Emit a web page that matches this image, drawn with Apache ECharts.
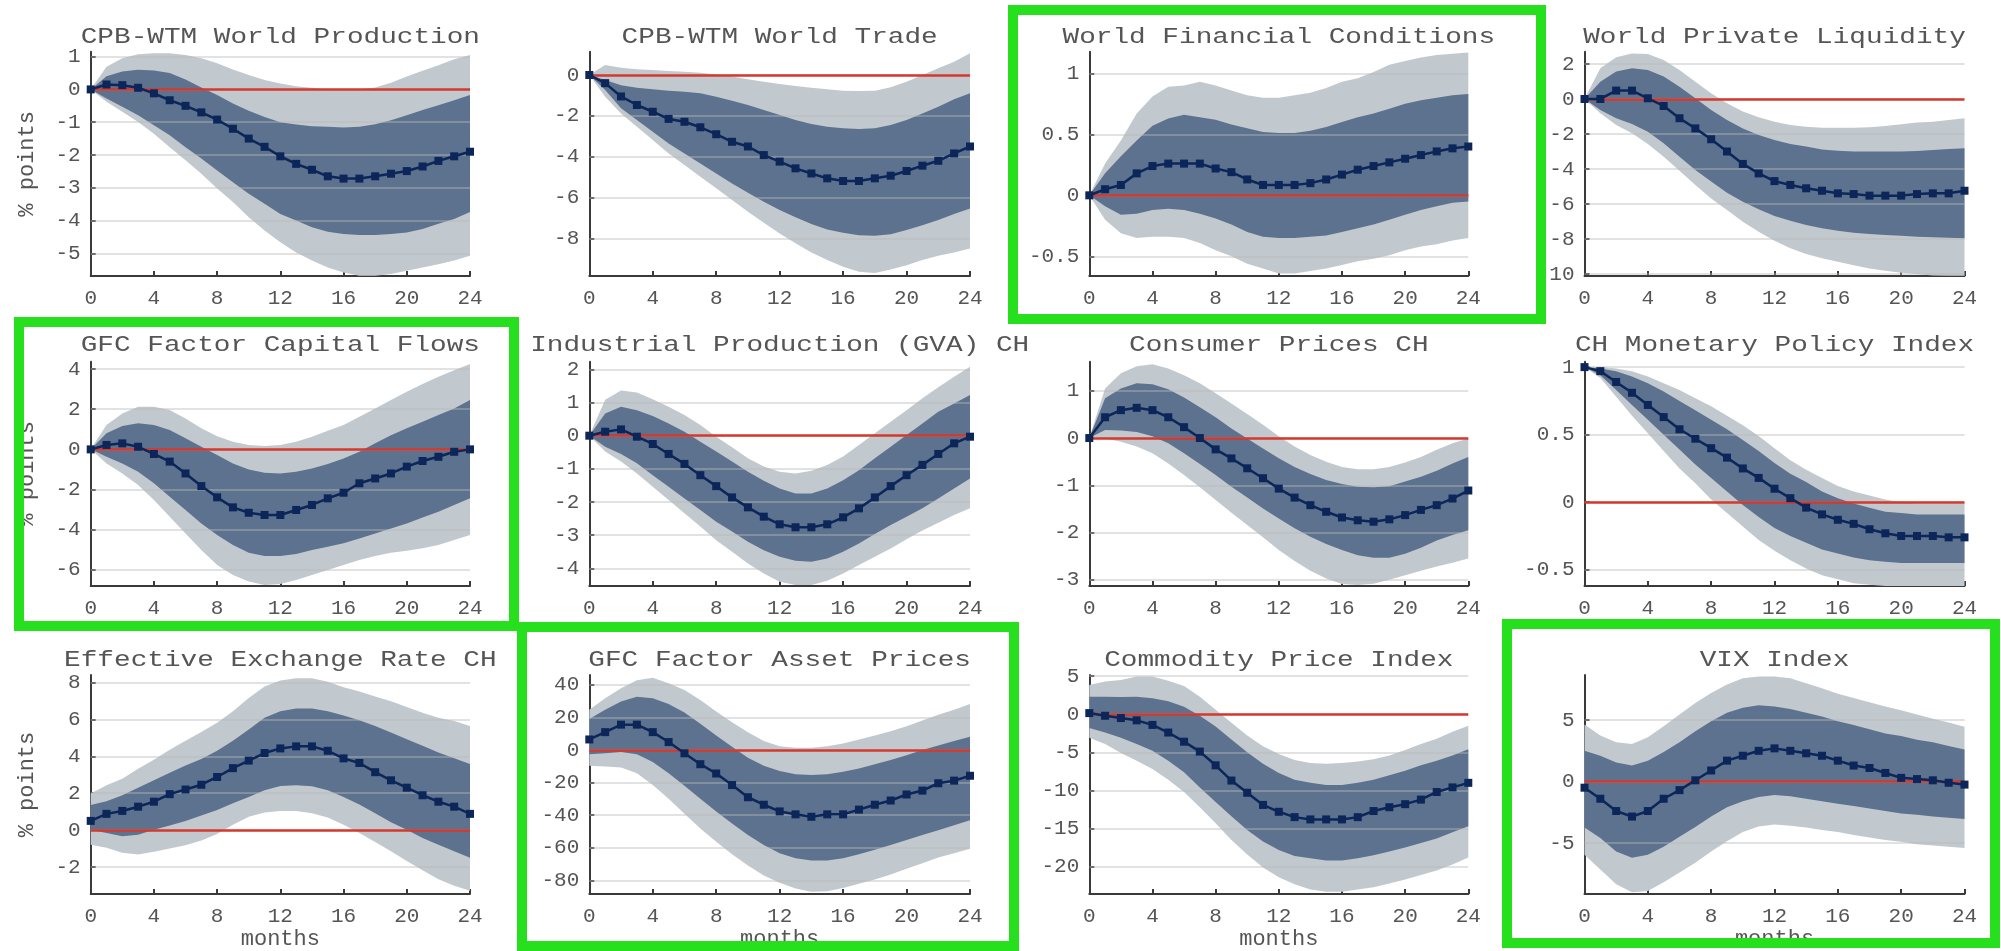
<!DOCTYPE html>
<html><head><meta charset="utf-8">
<script src="https://cdn.jsdelivr.net/npm/echarts@6/dist/echarts.min.js"></script>
<style>html,body{margin:0;padding:0;background:#fff}#c{width:2001px;height:951px}</style>
</head><body><div id="c"></div>
<script>
// ---------- DATA ----------
const months = [0,1,2,3,4,5,6,7,8,9,10,11,12,13,14,15,16,17,18,19,20,21,22,23,24];
const xTicks = [0,4,8,12,16,20,24];
const titles = ["CPB-WTM World Production","CPB-WTM World Trade","World Financial Conditions","World Private Liquidity",
  "GFC Factor Capital Flows","Industrial Production (GVA) CH","Consumer Prices CH","CH Monetary Policy Index",
  "Effective Exchange Rate CH","GFC Factor Asset Prices","Commodity Price Index","VIX Index"];
const yLabelText = "% points";
const xLabelText = "months";

// tick labels per panel
const ticks1 = [-5,-4,-3,-2,-1,0,1];
const ticks2 = [-8,-6,-4,-2,0];
const ticks3 = [-0.5,0,0.5,1];
const ticks4 = [-10,-8,-6,-4,-2,0,2];
const ticks5 = [-6,-4,-2,0,2,4];
const ticks6 = [-4,-3,-2,-1,0,1,2];
const ticks7 = [-3,-2,-1,0,1];
const ticks8 = [-0.5,0,0.5,1];
const ticks9 = [-2,0,2,4,6,8];
const ticks10 = [-80,-60,-40,-20,0,20,40];
const ticks11 = [-20,-15,-10,-5,0,5];
const ticks12 = [-5,0,5];

// y-axis extents per panel [min, max]
const yExtents = [[-5.69,1.15],[-9.84,1.14],[-0.661,1.177],[-10.11,2.7],
  [-6.81,4.37],[-4.53,2.23],[-3.13,1.615],[-0.62,1.04],
  [-3.47,8.41],[-88.5,46.1],[-23.6,5.15],[-9.16,8.67]];

// Panel 1: CPB-WTM World Production
const p1Med  = [0,0.15,0.13,0.05,-0.12,-0.33,-0.5,-0.7,-0.92,-1.2,-1.5,-1.75,-2.04,-2.27,-2.45,-2.65,-2.72,-2.72,-2.65,-2.57,-2.49,-2.35,-2.18,-2.04,-1.9];
const p1Hi68 = [0,0.4,0.55,0.6,0.58,0.5,0.3,0.06,-0.17,-0.43,-0.65,-0.84,-1.0,-1.07,-1.12,-1.14,-1.16,-1.14,-1.06,-0.94,-0.79,-0.63,-0.48,-0.33,-0.17];
const p1Lo68 = [0,-0.28,-0.53,-0.79,-1.09,-1.4,-1.76,-2.11,-2.47,-2.83,-3.18,-3.49,-3.8,-4.0,-4.2,-4.34,-4.41,-4.44,-4.44,-4.41,-4.36,-4.26,-4.1,-3.95,-3.74];
const p1Hi90 = [0,0.69,0.95,1.07,1.1,1.1,1.05,0.95,0.8,0.61,0.44,0.29,0.18,0.1,0.05,0,-0.02,0,0.06,0.2,0.39,0.57,0.74,0.92,1.05];
const p1Lo90 = [0,-0.38,-0.68,-0.99,-1.35,-1.76,-2.16,-2.57,-3.02,-3.43,-3.9,-4.3,-4.66,-4.97,-5.22,-5.43,-5.58,-5.68,-5.68,-5.63,-5.53,-5.43,-5.33,-5.22,-5.07];

// Panel 2: CPB-WTM World Trade
const p2Med  = [0,-0.4,-1.05,-1.47,-1.8,-2.15,-2.29,-2.56,-2.9,-3.27,-3.5,-3.92,-4.24,-4.57,-4.82,-5.06,-5.19,-5.19,-5.06,-4.93,-4.7,-4.44,-4.2,-3.84,-3.5];
const p2Hi68 = [0,-0.24,-0.5,-0.62,-0.7,-0.77,-0.82,-0.9,-1.06,-1.26,-1.47,-1.71,-1.96,-2.2,-2.4,-2.53,-2.61,-2.64,-2.61,-2.45,-2.2,-1.88,-1.55,-1.19,-0.9];
const p2Lo68 = [0,-0.73,-1.63,-2.2,-2.78,-3.35,-3.84,-4.33,-4.82,-5.31,-5.76,-6.2,-6.61,-6.97,-7.3,-7.56,-7.72,-7.84,-7.87,-7.8,-7.59,-7.35,-7.1,-6.8,-6.53];
const p2Hi90 = [0,0.49,0.36,0.28,0.24,0.2,0.16,0.11,0.03,-0.08,-0.21,-0.33,-0.44,-0.54,-0.62,-0.7,-0.77,-0.78,-0.77,-0.6,-0.33,0,0.33,0.65,1.06];
const p2Lo90 = [0,-1.06,-1.88,-2.53,-3.18,-3.84,-4.41,-4.98,-5.55,-6.12,-6.69,-7.23,-7.76,-8.24,-8.69,-9.06,-9.39,-9.63,-9.69,-9.52,-9.31,-9.06,-8.85,-8.69,-8.49];

// Panel 3: World Financial Conditions
const p3Med  = [0,0.05,0.085,0.18,0.24,0.26,0.26,0.26,0.22,0.19,0.13,0.085,0.085,0.085,0.1,0.13,0.17,0.21,0.24,0.27,0.3,0.33,0.36,0.385,0.4];
const p3Hi68 = [0,0.18,0.32,0.45,0.57,0.63,0.66,0.64,0.62,0.58,0.55,0.52,0.51,0.51,0.53,0.56,0.6,0.64,0.67,0.71,0.75,0.78,0.8,0.82,0.83];
const p3Lo68 = [0,-0.09,-0.16,-0.15,-0.12,-0.11,-0.12,-0.15,-0.19,-0.24,-0.3,-0.34,-0.35,-0.35,-0.34,-0.33,-0.3,-0.27,-0.24,-0.2,-0.16,-0.12,-0.09,-0.06,-0.05];
const p3Hi90 = [0,0.26,0.45,0.67,0.81,0.89,0.9,0.93,0.9,0.86,0.82,0.8,0.8,0.82,0.84,0.88,0.93,0.96,1.01,1.07,1.1,1.13,1.15,1.16,1.17];
const p3Lo90 = [0,-0.2,-0.31,-0.35,-0.34,-0.34,-0.35,-0.39,-0.45,-0.5,-0.56,-0.6,-0.64,-0.64,-0.62,-0.6,-0.57,-0.54,-0.52,-0.49,-0.45,-0.42,-0.4,-0.37,-0.35];

// Panel 4: World Private Liquidity
const p4Med  = [0,0,0.48,0.48,0.04,-0.4,-1.1,-1.68,-2.3,-3.0,-3.71,-4.25,-4.69,-4.91,-5.1,-5.24,-5.39,-5.43,-5.52,-5.52,-5.52,-5.43,-5.39,-5.39,-5.24];
const p4Hi68 = [0,0.99,1.57,1.75,1.66,1.28,0.7,0.04,-0.63,-1.2,-1.68,-2.06,-2.34,-2.57,-2.72,-2.88,-2.95,-3.0,-3.0,-3.0,-3.0,-2.97,-2.91,-2.86,-2.82];
const p4Lo68 = [0,-0.63,-1.1,-1.43,-1.87,-2.53,-3.3,-4.06,-4.72,-5.35,-5.87,-6.3,-6.69,-6.95,-7.2,-7.39,-7.52,-7.64,-7.71,-7.77,-7.81,-7.87,-7.9,-7.92,-7.96];
const p4Hi90 = [0,1.75,2.38,2.6,2.57,2.23,1.66,0.99,0.32,-0.25,-0.72,-1.05,-1.3,-1.49,-1.58,-1.64,-1.64,-1.64,-1.62,-1.54,-1.45,-1.35,-1.3,-1.2,-1.1];
const p4Lo90 = [0,-0.82,-1.49,-1.96,-2.57,-3.3,-4.1,-4.91,-5.68,-6.34,-7.01,-7.58,-8.1,-8.53,-8.86,-9.1,-9.3,-9.49,-9.68,-9.81,-9.92,-10.0,-10.08,-10.1,-10.1];

// Panel 5: GFC Factor Capital Flows
const p5Med  = [0,0.22,0.3,0.13,-0.23,-0.61,-1.2,-1.83,-2.39,-2.89,-3.16,-3.27,-3.27,-3.02,-2.77,-2.44,-2.16,-1.69,-1.45,-1.2,-0.86,-0.58,-0.37,-0.12,0];
const p5Hi68 = [0,0.8,1.16,1.3,1.21,0.96,0.55,0.13,-0.28,-0.7,-1.0,-1.16,-1.2,-1.11,-0.95,-0.73,-0.45,-0.12,0.3,0.71,1.05,1.38,1.71,2.04,2.46];
const p5Lo68 = [0,-0.37,-0.7,-1.11,-1.69,-2.36,-3.02,-3.69,-4.27,-4.77,-5.15,-5.32,-5.32,-5.22,-5.02,-4.85,-4.68,-4.44,-4.19,-3.94,-3.69,-3.39,-3.11,-2.77,-2.44];
const p5Hi90 = [0,1.21,1.79,2.13,2.13,1.96,1.54,1.05,0.66,0.38,0.22,0.17,0.22,0.38,0.63,0.93,1.21,1.63,2.04,2.46,2.87,3.26,3.62,3.95,4.25];
const p5Lo90 = [0,-0.7,-1.2,-1.78,-2.52,-3.36,-4.19,-5.02,-5.76,-6.26,-6.59,-6.76,-6.71,-6.51,-6.26,-6.01,-5.76,-5.51,-5.32,-5.15,-5.05,-4.93,-4.77,-4.52,-4.27];

// Panel 6: Industrial Production (GVA) CH
const p6Med  = [0,0.12,0.19,-0.03,-0.25,-0.55,-0.85,-1.19,-1.52,-1.86,-2.16,-2.44,-2.67,-2.76,-2.76,-2.67,-2.46,-2.19,-1.86,-1.52,-1.19,-0.88,-0.55,-0.23,-0.03];
const p6Hi68 = [0,0.67,0.87,0.77,0.59,0.37,0.12,-0.18,-0.48,-0.78,-1.09,-1.36,-1.59,-1.74,-1.74,-1.59,-1.34,-1.04,-0.68,-0.33,0.02,0.37,0.72,0.97,1.23];
const p6Lo68 = [0,-0.33,-0.55,-0.83,-1.19,-1.54,-1.89,-2.24,-2.59,-2.89,-3.2,-3.45,-3.65,-3.77,-3.8,-3.7,-3.5,-3.25,-2.96,-2.69,-2.44,-2.19,-1.89,-1.59,-1.29];
const p6Hi90 = [0,1.08,1.36,1.3,1.1,0.87,0.62,0.32,-0.03,-0.35,-0.68,-0.93,-1.09,-1.14,-1.06,-0.88,-0.63,-0.28,0.07,0.42,0.77,1.13,1.46,1.78,2.08];
const p6Lo90 = [0,-0.48,-0.78,-1.14,-1.54,-1.94,-2.34,-2.74,-3.15,-3.5,-3.85,-4.15,-4.4,-4.5,-4.5,-4.37,-4.15,-3.9,-3.65,-3.4,-3.12,-2.86,-2.62,-2.39,-2.19];

// Panel 7: Consumer Prices CH
const p7Med  = [0,0.44,0.59,0.64,0.59,0.44,0.23,0,-0.24,-0.43,-0.64,-0.85,-1.07,-1.26,-1.42,-1.56,-1.68,-1.74,-1.77,-1.72,-1.63,-1.52,-1.42,-1.28,-1.11];
const p7Hi68 = [0,0.84,1.05,1.16,1.14,1.03,0.86,0.65,0.44,0.2,-0.01,-0.22,-0.43,-0.61,-0.76,-0.89,-0.97,-1.03,-1.04,-1.02,-0.92,-0.82,-0.69,-0.54,-0.4];
const p7Lo68 = [0,0.17,0.16,0.13,0.04,-0.11,-0.32,-0.55,-0.78,-1.03,-1.26,-1.49,-1.7,-1.91,-2.09,-2.24,-2.37,-2.48,-2.53,-2.53,-2.45,-2.32,-2.17,-2.05,-1.95];
const p7Hi90 = [0,1.05,1.37,1.52,1.56,1.47,1.33,1.16,0.95,0.73,0.51,0.28,0.04,-0.18,-0.36,-0.5,-0.61,-0.66,-0.66,-0.61,-0.52,-0.4,-0.25,-0.11,-0.01];
const p7Lo90 = [0,-0.01,-0.08,-0.18,-0.32,-0.54,-0.78,-1.04,-1.31,-1.58,-1.84,-2.1,-2.37,-2.6,-2.81,-2.97,-3.09,-3.11,-3.08,-3.0,-2.9,-2.81,-2.72,-2.64,-2.55];

// Panel 8: CH Monetary Policy Index
const p8Med  = [1,0.97,0.89,0.81,0.72,0.63,0.54,0.47,0.4,0.33,0.25,0.18,0.1,0.03,-0.04,-0.09,-0.13,-0.16,-0.2,-0.23,-0.25,-0.25,-0.25,-0.26,-0.26];
const p8Hi68 = [1,0.99,0.97,0.93,0.88,0.82,0.75,0.68,0.61,0.54,0.46,0.38,0.29,0.21,0.15,0.08,0.03,-0.01,-0.04,-0.07,-0.08,-0.09,-0.09,-0.09,-0.09];
const p8Lo68 = [1,0.94,0.83,0.72,0.61,0.5,0.39,0.28,0.18,0.08,-0.02,-0.11,-0.19,-0.25,-0.3,-0.35,-0.38,-0.41,-0.43,-0.44,-0.45,-0.45,-0.45,-0.45,-0.45];
const p8Hi90 = [1,1.0,0.99,0.97,0.93,0.88,0.83,0.77,0.71,0.64,0.57,0.49,0.4,0.31,0.24,0.18,0.12,0.08,0.05,0.02,0,-0.01,-0.01,-0.01,-0.01];
const p8Lo90 = [1,0.92,0.78,0.64,0.51,0.38,0.25,0.14,0.02,-0.08,-0.18,-0.28,-0.36,-0.43,-0.49,-0.54,-0.57,-0.6,-0.61,-0.62,-0.62,-0.62,-0.62,-0.62,-0.62];

// Panel 9: Effective Exchange Rate CH
const p9Med  = [0.5,0.88,1.04,1.27,1.54,1.95,2.2,2.46,2.88,3.36,3.77,4.18,4.43,4.54,4.54,4.3,3.89,3.64,3.14,2.7,2.3,1.89,1.54,1.27,0.88];
const p9Hi68 = [1.36,1.57,1.89,2.29,2.7,3.11,3.5,3.86,4.3,4.84,5.46,6.09,6.45,6.59,6.59,6.45,6.21,5.96,5.64,5.29,4.93,4.57,4.21,3.89,3.59];
const p9Lo68 = [0.02,-0.16,-0.34,-0.25,0.02,0.25,0.5,0.79,1.09,1.45,1.8,2.16,2.39,2.43,2.38,2.16,1.8,1.39,0.91,0.43,0.02,-0.43,-0.79,-1.14,-1.5];
const p9Hi90 = [1.98,2.43,2.79,3.32,3.82,4.36,4.84,5.32,5.82,6.45,7.16,7.79,8.11,8.23,8.23,8.05,7.75,7.52,7.25,6.98,6.68,6.36,6.09,5.91,5.64];
const p9Lo90 = [-0.79,-0.96,-1.23,-1.32,-1.18,-1.0,-0.82,-0.57,-0.21,0.29,0.73,0.96,1.04,1.04,0.91,0.68,0.29,-0.16,-0.64,-1.14,-1.68,-2.18,-2.66,-3.02,-3.29];

// Panel 10: GFC Factor Asset Prices
const p10Med  = [6.5,11,15.6,15.6,11,4.9,-2,-8.7,-14.4,-21.5,-29,-33.6,-37.7,-39.5,-41,-39.5,-39.5,-36.6,-33.6,-31,-27.3,-24.9,-20.4,-18.8,-15.8];
const p10Hi68 = [19,24.7,29.8,32.8,31.8,28.3,23.1,16.2,8.9,2,-4.7,-9.7,-12.8,-14.8,-15.4,-14.8,-13.4,-11.3,-8.7,-6.1,-3.2,0,2.8,5.5,8.1];
const p10Lo68 = [-2.6,-2,-1.2,-2.6,-7.3,-14.2,-21.9,-30,-37.7,-45.1,-52.2,-58.3,-63.4,-66.4,-67.8,-67.8,-66.4,-64,-61.3,-58.3,-55.3,-52.2,-49.2,-46.2,-43.1];
const p10Hi90 = [24.7,31.8,37.9,42.9,44.4,41,36.9,30.8,23.7,17,10.9,5.5,2.4,1.4,1.4,2.4,4,6.5,8.9,11.5,14.6,18.2,21.7,24.7,28.3];
const p10Lo90 = [-9.7,-10.1,-10.7,-14.2,-21.5,-30,-39.1,-48.2,-56.3,-64,-70.9,-77,-81.6,-85.1,-87.1,-86.7,-84.7,-82.2,-79.6,-76.5,-72.9,-69.5,-66,-63.4,-60.7];

// Panel 11: Commodity Price Index
const p11Med  = [0.15,-0.2,-0.5,-0.8,-1.4,-2.4,-3.6,-4.9,-6.7,-8.7,-10.3,-11.9,-12.8,-13.5,-13.8,-13.8,-13.8,-13.5,-12.7,-12.2,-11.8,-11.2,-10.2,-9.6,-9];
const p11Hi68 = [2.3,2.3,2.25,2.3,2.1,1.7,1,-0.2,-1.6,-3.3,-5,-6.5,-7.7,-8.6,-9,-9.3,-9.3,-9,-8.6,-8,-7.4,-6.7,-6.1,-5.4,-4.6];
const p11Lo68 = [-1.8,-2.4,-3.1,-3.9,-4.8,-6.1,-7.6,-9.6,-11.5,-13.4,-15.2,-16.7,-17.8,-18.6,-18.9,-19.2,-19.2,-18.9,-18.5,-18,-17.5,-16.9,-16.3,-15.5,-14.7];
const p11Hi90 = [3.85,4.3,4.5,4.95,4.95,4.4,3.7,2.3,0.6,-1.1,-2.8,-4.2,-5.2,-6,-6.4,-6.5,-6.4,-6.2,-5.9,-5.4,-4.7,-3.9,-3.2,-2.3,-1.5];
const p11Lo90 = [-3.1,-3.9,-5.1,-6.1,-7.2,-8.6,-10.2,-12.2,-14.3,-16.5,-18.4,-20.1,-21.4,-22.3,-23,-23.3,-23.3,-23,-22.7,-22.2,-21.7,-21.1,-20.5,-19.7,-18.8];

// Panel 12: VIX Index
const p12Med  = [-0.5,-1.4,-2.4,-2.85,-2.4,-1.4,-0.7,0.1,0.9,1.7,2.1,2.5,2.7,2.5,2.3,2.1,1.7,1.3,1.1,0.7,0.3,0.2,0.1,-0.1,-0.25];
const p12Hi68 = [2.5,2.1,1.55,1.3,1.7,2.4,3.2,4.1,4.9,5.6,6,6.2,6.1,5.9,5.6,5.3,4.9,4.6,4.25,3.9,3.7,3.4,3.2,2.9,2.6];
const p12Lo68 = [-3.75,-4.6,-5.7,-6.2,-5.95,-5.3,-4.5,-3.7,-2.85,-2.1,-1.6,-1.25,-1.1,-1.2,-1.4,-1.6,-1.8,-2,-2.2,-2.4,-2.6,-2.7,-2.85,-2.95,-3.05];
const p12Hi90 = [4.65,3.75,3.2,3.05,3.6,4.5,5.45,6.4,7.2,7.9,8.4,8.55,8.55,8.4,8,7.6,7.15,6.8,6.45,6.1,5.8,5.45,5.1,4.8,4.45];
const p12Lo90 = [-5.95,-7.15,-8.35,-9.0,-8.9,-8.2,-7.4,-6.6,-5.7,-4.85,-4.1,-3.65,-3.5,-3.6,-3.75,-3.95,-4.1,-4.35,-4.55,-4.75,-4.9,-5.1,-5.2,-5.3,-5.4];

// ---------- ASSEMBLY ----------
const panelData = [
  [p1Med,p1Lo68,p1Hi68,p1Lo90,p1Hi90,ticks1],
  [p2Med,p2Lo68,p2Hi68,p2Lo90,p2Hi90,ticks2],
  [p3Med,p3Lo68,p3Hi68,p3Lo90,p3Hi90,ticks3],
  [p4Med,p4Lo68,p4Hi68,p4Lo90,p4Hi90,ticks4],
  [p5Med,p5Lo68,p5Hi68,p5Lo90,p5Hi90,ticks5],
  [p6Med,p6Lo68,p6Hi68,p6Lo90,p6Hi90,ticks6],
  [p7Med,p7Lo68,p7Hi68,p7Lo90,p7Hi90,ticks7],
  [p8Med,p8Lo68,p8Hi68,p8Lo90,p8Hi90,ticks8],
  [p9Med,p9Lo68,p9Hi68,p9Lo90,p9Hi90,ticks9],
  [p10Med,p10Lo68,p10Hi68,p10Lo90,p10Hi90,ticks10],
  [p11Med,p11Lo68,p11Hi68,p11Lo90,p11Hi90,ticks11],
  [p12Med,p12Lo68,p12Hi68,p12Lo90,p12Hi90,ticks12]
];

// layout
const colLeft = [90.7, 589.3, 1089.3, 1584.5];
const colWidth = [379.3, 380.7, 379, 380];
const rowTop = [51.7, 361.7, 675];
const rowHeight = [224.3, 224.3, 221.7];
const titleY = [37, 345, 660];

const FONT = '"Liberation Mono","DejaVu Sans Mono",monospace';
const TXT = '#555555';
const AXIS = '#3a3a3a';
const LIGHT = '#c2c9ce';
const DARK = '#5d728e';
const NAVY = '#0c2659';
const RED = '#d5392d';
const GREEN = '#27e01d';

const grids = [], xAxes = [], yAxes = [], series = [], graphics = [];
const pair = (arr) => months.map((m, i) => [m, arr[i]]);

function bandSeries(k, lo, hi, color) {
  return {
    type: 'custom', xAxisIndex: k, yAxisIndex: k, z: 2, silent: true, clip: true, animation: false,
    data: months.map((m, i) => [m, lo[i], hi[i]]),
    encode: { x: 0, y: [1, 2] },
    renderItem: function (params, api) {
      if (params.dataIndex !== 0) return null;
      const pts = [];
      for (let i = 0; i < months.length; i++) pts.push(api.coord([months[i], hi[i]]));
      for (let i = months.length - 1; i >= 0; i--) pts.push(api.coord([months[i], lo[i]]));
      return { type: 'polygon', shape: { points: pts }, style: { fill: color, stroke: null } };
    }
  };
}

panelData.forEach((pd, k) => {
  const [med, lo68, hi68, lo90, hi90, ticks] = pd;
  const r = Math.floor(k / 4), c = k % 4;
  grids.push({ left: colLeft[c], top: rowTop[r], width: colWidth[c], height: rowHeight[r], containLabel: false });
  xAxes.push({
    type: 'value', gridIndex: k, min: 0, max: 24, interval: 4,
    axisLine: { show: true, onZero: false, lineStyle: { color: AXIS, width: 2 } },
    axisTick: { show: true, inside: true, length: 5, lineStyle: { color: AXIS, width: 2 } },
    axisLabel: { show: true, margin: 12, color: TXT, fontFamily: FONT, fontSize: 21, customValues: xTicks },
    splitLine: { show: false },
    name: r === 2 ? xLabelText : '', nameLocation: 'middle', nameGap: 32,
    nameTextStyle: { color: TXT, fontFamily: FONT, fontSize: 22 }
  });
  yAxes.push({
    type: 'value', gridIndex: k, min: yExtents[k][0], max: yExtents[k][1],
    axisLine: { show: true, onZero: false, lineStyle: { color: AXIS, width: 2 } },
    axisTick: { show: true, inside: true, length: 5, lineStyle: { color: AXIS, width: 2 }, customValues: ticks },
    axisLabel: { show: true, margin: 10, color: TXT, fontFamily: FONT, fontSize: 21, customValues: ticks },
    splitLine: { show: false },
    name: c === 0 ? yLabelText : '', nameLocation: 'middle', nameGap: 53, nameRotate: 90,
    nameTextStyle: { color: TXT, fontFamily: FONT, fontSize: 22 }
  });
  // bands
  series.push(bandSeries(k, lo90, hi90, LIGHT));
  series.push(bandSeries(k, lo68, hi68, DARK));
  // grid lines (drawn over the bands, translucent)
  series.push({
    type: 'line', xAxisIndex: k, yAxisIndex: k, z: 3, animation: false, silent: true,
    data: pair(med), symbol: 'none', lineStyle: { opacity: 0, width: 0 },
    markLine: { silent: true, symbol: 'none', z: 3, animation: false, label: { show: false },
      lineStyle: { color: 'rgba(185,185,185,0.55)', width: 1.5, type: 'solid' },
      data: ticks.map(v => ({ yAxis: v })) }
  });
  // median with zero line
  series.push({
    type: 'line', xAxisIndex: k, yAxisIndex: k, z: 6, animation: false, silent: true,
    data: pair(med), symbol: 'rect', symbolSize: 8, showAllSymbol: true,
    lineStyle: { color: NAVY, width: 2.5 }, itemStyle: { color: NAVY },
    markLine: { silent: true, symbol: 'none', z: 4, animation: false, label: { show: false },
      lineStyle: { color: RED, width: 2.5, type: 'solid' }, data: [{ yAxis: 0 }] }
  });
  // title
  graphics.push({
    type: 'text', x: colLeft[c] + colWidth[c] / 2, y: titleY[r], scaleX: 1.26, z: 50,
    style: { text: titles[k], fill: TXT, font: '22px ' + FONT,
      align: 'center', verticalAlign: 'middle', textAlign: 'center', textVerticalAlign: 'middle' }
  });
});

// green highlight boxes
const boxes = [
  [1013, 10, 528, 309],
  [19, 322, 495, 304],
  [522, 627, 492, 319],
  [1507, 624, 488, 319]
];
boxes.forEach(b => graphics.push({
  type: 'rect', z: 100, shape: { x: b[0], y: b[1], width: b[2], height: b[3] },
  style: { fill: null, stroke: GREEN, lineWidth: 10 }
}));

const chart = echarts.init(document.getElementById('c'), null, { renderer: 'canvas' });
chart.setOption({
  animation: false,
  backgroundColor: '#ffffff',
  grid: grids, xAxis: xAxes, yAxis: yAxes, series: series,
  graphic: { elements: graphics }
});
</script>
</body></html>
